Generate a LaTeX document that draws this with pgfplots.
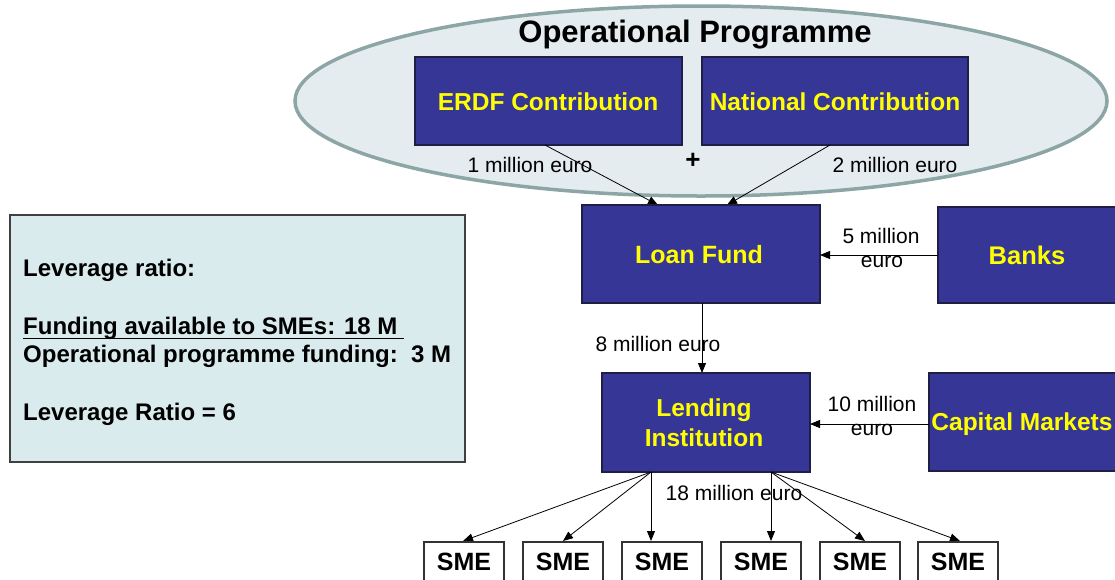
\documentclass[border=0pt]{standalone}
\usepackage{pgfplots}
\pgfplotsset{compat=1.18}
\usepackage{fontspec}
\setmainfont{Liberation Sans}
\usetikzlibrary{arrows.meta}
\definecolor{boxblue}{RGB}{54,54,150}
\definecolor{boxedge}{RGB}{30,30,70}
\definecolor{ellfill}{RGB}{228,236,240}
\definecolor{elledge}{RGB}{140,165,165}
\definecolor{leftfill}{RGB}{218,235,238}
\definecolor{txtyellow}{RGB}{255,255,0}
\newcommand{\fs}[1]{\fontsize{#1}{#1}\selectfont}
\begin{document}
\begin{tikzpicture}
\begin{axis}[name=ax, width=1115pt, height=579pt, scale only axis,
  xmin=0, xmax=1115, ymin=0, ymax=579, y dir=reverse,
  axis lines=none, ticks=none, clip=false]
% ellipse
\draw[fill=ellfill, draw=elledge, line width=3.5pt] (axis cs:701,101) ellipse [x radius=406pt, y radius=95pt];
\node[font=\bfseries\fs{31}] at (axis cs:695,35) {Operational Programme};
% top boxes
\draw[fill=boxblue, draw=boxedge, line width=1.2pt] (axis cs:415,57) rectangle (axis cs:682,145);
\draw[fill=boxblue, draw=boxedge, line width=1.2pt] (axis cs:702,57) rectangle (axis cs:968,145);
\node[text=txtyellow, font=\bfseries\fs{24.5}] at (axis cs:548,102) {ERDF Contribution};
\node[text=txtyellow, font=\bfseries\fs{24.5}] at (axis cs:835,102) {National Contribution};
\node[font=\fs{21}] at (axis cs:530,165) {1 million euro};
\node[font=\bfseries\fs{26}] at (axis cs:693,161) {+};
\node[font=\fs{21}] at (axis cs:895,165) {2 million euro};
% arrows into loan fund
\addplot[black, line width=0.8pt, -{Triangle[length=10pt,width=8pt]}] coordinates {(545,145) (658,205)};
\addplot[black, line width=0.8pt, -{Triangle[length=10pt,width=8pt]}] coordinates {(830,145) (727,205)};
% loan fund and banks
\draw[fill=boxblue, draw=boxedge, line width=1.2pt] (axis cs:582,205) rectangle (axis cs:820,303);
\node[text=txtyellow, font=\bfseries\fs{25}] at (axis cs:699,255) {Loan Fund};
\draw[fill=boxblue, draw=boxedge, line width=1.2pt] (axis cs:938,207) rectangle (axis cs:1125,303);
\node[text=txtyellow, font=\bfseries\fs{25.5}] at (axis cs:1027,255) {Banks};
\addplot[black, line width=0.8pt, -{Triangle[length=10pt,width=8pt]}] coordinates {(938,255) (820,255)};
\node[font=\fs{21}] at (axis cs:881,236) {5 million};
\node[font=\fs{21}] at (axis cs:882,262) {euro};
% loan fund -> lending
\addplot[black, line width=0.8pt, -{Triangle[length=10pt,width=8pt]}] coordinates {(702,303) (702,373)};
\node[font=\fs{21}] at (axis cs:658,344) {8 million euro};
% lending institution and capital markets
\draw[fill=boxblue, draw=boxedge, line width=1.2pt] (axis cs:602,373) rectangle (axis cs:810,472);
\node[text=txtyellow, font=\bfseries\fontsize{24.5}{30}\selectfont, align=center] at (axis cs:704,423) {Lending\\Institution};
\draw[fill=boxblue, draw=boxedge, line width=1.2pt] (axis cs:929,373) rectangle (axis cs:1125,471);
\node[text=txtyellow, font=\bfseries\fs{24.5}] at (axis cs:1022,424) {Capital Markets};
\addplot[black, line width=0.8pt, -{Triangle[length=10pt,width=8pt]}] coordinates {(929,424) (810,424)};
\node[font=\fs{21}] at (axis cs:872,404) {10 million};
\node[font=\fs{21}] at (axis cs:872,430) {euro};
% arrows to SMEs
\addplot[black, line width=0.8pt, -{Triangle[length=10pt,width=8pt]}] coordinates {(651,472) (463,541)};
\addplot[black, line width=0.8pt, -{Triangle[length=10pt,width=8pt]}] coordinates {(651,472) (563,541)};
\addplot[black, line width=0.8pt, -{Triangle[length=10pt,width=8pt]}] coordinates {(651,472) (651,541)};
\addplot[black, line width=0.8pt, -{Triangle[length=10pt,width=8pt]}] coordinates {(771,472) (771,541)};
\addplot[black, line width=0.8pt, -{Triangle[length=10pt,width=8pt]}] coordinates {(771,472) (865,541)};
\addplot[black, line width=0.8pt, -{Triangle[length=10pt,width=8pt]}] coordinates {(771,472) (960,541)};
\node[font=\fs{21}] at (axis cs:734,493) {18 million euro};
% SME boxes
\foreach \xa in {424,523,622,721,820,918} {
  \edef\tmp{\noexpand\draw[fill=white, draw=black!80, line width=1.2pt] (axis cs:\xa,542) rectangle (axis cs:\xa+80,585);
    \noexpand\node[font=\noexpand\bfseries\noexpand\fs{25}] at (axis cs:\xa+40,562) {SME};}
  \tmp
}
% left box
\draw[fill=leftfill, draw=black!75, line width=1.2pt] (axis cs:10,215) rectangle (axis cs:465,462);
\node[anchor=base west, inner sep=0pt, font=\bfseries\fs{24}] at (axis cs:23,276) {Leverage ratio:};
\node[anchor=base west, inner sep=0pt, font=\bfseries\fs{24}] at (axis cs:23,334) {Funding available to SMEs: 18 M};
\draw[black, line width=1.6pt] (axis cs:23,338.5) -- (axis cs:404,338.5);
\node[anchor=base west, inner sep=0pt, font=\bfseries\fs{24}] at (axis cs:23,362) {Operational programme funding:\ \ 3 M};
\node[anchor=base west, inner sep=0pt, font=\bfseries\fs{24}] at (axis cs:23,420) {Leverage Ratio = 6};
\end{axis}
\pgfresetboundingbox
\path (ax.south west) rectangle (ax.north east);
\end{tikzpicture}
\end{document}
